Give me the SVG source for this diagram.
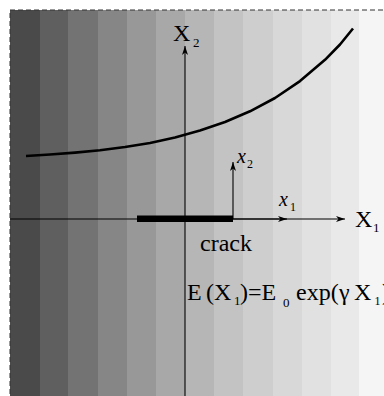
<svg xmlns="http://www.w3.org/2000/svg" width="384" height="396" viewBox="0 0 384 396">
<defs>
<style>
text{font-family:"Liberation Serif","Times New Roman",serif;fill:#000}
.ax{stroke:#000;stroke-width:1.1;fill:none}
</style>
<marker id="ah" markerWidth="10" markerHeight="8" refX="9" refY="4" orient="auto" markerUnits="userSpaceOnUse">
<path d="M0,1 L9,4 L0,7 L2.5,4 z" fill="#000"/>
</marker>
</defs>
<g id="bands">
<rect x="10" y="10" width="30" height="386" fill="#4a4a4a"/>
<rect x="40" y="10" width="28" height="386" fill="#5f5f5f"/>
<rect x="68" y="10" width="30" height="386" fill="#737373"/>
<rect x="98" y="10" width="29" height="386" fill="#868686"/>
<rect x="127" y="10" width="29" height="386" fill="#989898"/>
<rect x="156" y="10" width="29" height="386" fill="#a8a8a8"/>
<rect x="185" y="10" width="29" height="386" fill="#b6b6b6"/>
<rect x="214" y="10" width="29" height="386" fill="#c3c3c3"/>
<rect x="243" y="10" width="30" height="386" fill="#cecece"/>
<rect x="273" y="10" width="29" height="386" fill="#d8d8d8"/>
<rect x="302" y="10" width="29" height="386" fill="#e1e1e1"/>
<rect x="331" y="10" width="28" height="386" fill="#e9e9e9"/>
<rect x="359" y="10" width="30" height="386" fill="#f5f5f5"/>
<rect x="10" y="10" width="400" height="400" fill="none" stroke="#333" stroke-width="1" stroke-dasharray="5,3"/>
</g>
<g id="curve">
<polyline fill="none" stroke="#000" stroke-width="2.6" stroke-linejoin="round" points="26,156 50,154.5 75,152.6 100,150.2 125,147 150,143 175,137.6 200,130.6 225,122 250,111.3 275,98 300,81.1 325,59.8 340,44.5 353,28.5"/>
</g>
<g id="connectors">
<line class="ax" x1="185" y1="396" x2="185" y2="46" marker-end="url(#ah)"/>
<line class="ax" x1="10" y1="219" x2="345" y2="219" marker-end="url(#ah)"/>
<line class="ax" x1="233" y1="219" x2="287" y2="219" marker-end="url(#ah)"/>
<line class="ax" x1="233" y1="219" x2="233" y2="162" marker-end="url(#ah)"/>
</g>
<g id="crack">
<rect x="137" y="215.5" width="96" height="6.5" fill="#000"/>
<text x="200" y="251" font-size="24" font-family="Liberation Serif, serif">crack</text>
</g>
<g id="labels" font-family="Liberation Serif, serif">
<text x="173" y="41" font-size="24">X</text>
<text x="193" y="47" font-size="13">2</text>
<text x="355" y="227" font-size="24">X</text>
<text x="373" y="232" font-size="13">1</text>
<text x="237" y="163" font-size="20" font-style="italic">x</text>
<text x="247" y="168" font-size="12">2</text>
<text x="279" y="206" font-size="20" font-style="italic">x</text>
<text x="290" y="211" font-size="12">1</text>
</g>
<g id="equation" font-family="Liberation Serif, serif" font-size="24">
<text x="187" y="300">E</text>
<text x="206" y="300">(</text>
<text x="214" y="300">X</text>
<text x="234" y="305" font-size="13">1</text>
<text x="240" y="300">)=E</text>
<text x="283" y="307" font-size="13">0</text>
<text x="296" y="300">exp(</text>
<text x="339" y="300">γ</text>
<text x="354" y="300">X</text>
<text x="374.5" y="305" font-size="12">1</text>
<text x="382" y="300">)</text>
</g>
</svg>
